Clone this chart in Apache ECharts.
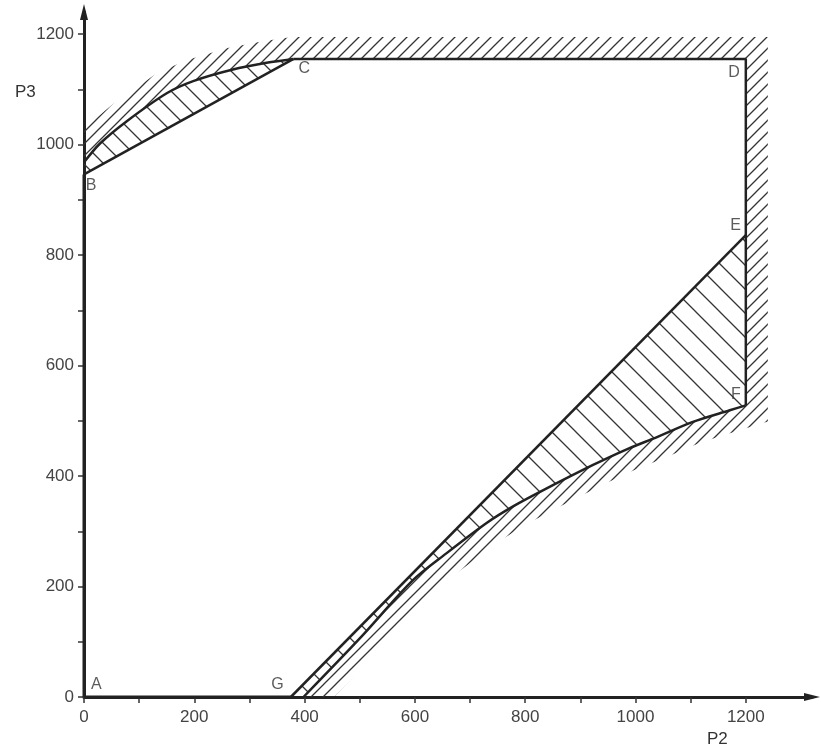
<!DOCTYPE html>
<html>
<head>
<meta charset="utf-8">
<title>P2 / P3</title>
<script src="https://cdn.jsdelivr.net/npm/echarts@6/dist/echarts.min.js"></script>
<style>
  html, body { margin: 0; padding: 0; background: #fff; }
  #chart { width: 821px; height: 750px; }
</style>
</head>
<body>
<div id="chart"></div>
<script>
// 轴刻度
var xTicks = [0, 100, 200, 300, 400, 500, 600, 700, 800, 900, 1000, 1100, 1200]
var xLabels = [0, 200, 400, 600, 800, 1000, 1200]
var yTicks = [0, 100, 200, 300, 400, 500, 600, 700, 800, 900, 1000, 1100, 1200]
var yLabels = [0, 200, 400, 600, 800, 1000, 1200]

// 角点 A..G
var pointNames = ['A', 'B', 'C', 'D', 'E', 'F', 'G']
var pointValues = [[0, 0], [0, 946], [380, 1155], [1200, 1155], [1200, 836], [1200, 528], [375, 0]]

// 上方弯边 (从 y 轴到 C)
var upperCurve = [[0, 968], [29, 1002], [77, 1042], [150, 1093], [198, 1115], [270, 1136], [331, 1148], [380, 1155]]
// 下方弯边 (从 x 轴到 F)
var lowerCurve = [[398, 0], [500, 106], [596, 211], [657, 260], [730, 315], [778, 345], [832, 374],
  [923, 420], [981, 447], [1040, 471], [1104, 498], [1171, 519], [1200, 528]]

var A = pointValues[0], B = pointValues[1], C = pointValues[2], D = pointValues[3]
var E = pointValues[4], F = pointValues[5], G = pointValues[6]

// 斜线填充
function hatch(size, dir, width, color) {
  var c = document.createElement('canvas')
  c.width = size
  c.height = size
  var ctx = c.getContext('2d')
  ctx.strokeStyle = color
  ctx.lineWidth = width
  ctx.beginPath()
  if (dir === '/') {
    ctx.moveTo(0, size); ctx.lineTo(size, 0)
    ctx.moveTo(-2, 2); ctx.lineTo(2, -2)
    ctx.moveTo(size - 2, size + 2); ctx.lineTo(size + 2, size - 2)
  } else {
    ctx.moveTo(0, 0); ctx.lineTo(size, size)
    ctx.moveTo(-2, size - 2); ctx.lineTo(2, size + 2)
    ctx.moveTo(size - 2, -2); ctx.lineTo(size + 2, 2)
  }
  ctx.stroke()
  return { image: c, repeat: 'repeat' }
}

var outerHatch = hatch(12, '/', 1.3, '#333')
var upperHatch = hatch(20, '\\', 1.3, '#333')
var lowerHatch = hatch(24, '\\', 1.3, '#333')

// 外侧带: 沿边界向外偏移
function bandPoints(pts, w) {
  var n = pts.length
  var norms = []
  for (var i = 0; i < n - 1; i++) {
    var dx = pts[i + 1][0] - pts[i][0]
    var dy = pts[i + 1][1] - pts[i][1]
    var l = Math.sqrt(dx * dx + dy * dy) || 1
    norms.push([dy / l, -dx / l])
  }
  var out = []
  for (var j = 0; j < n; j++) {
    var n1 = norms[Math.max(0, j - 1)]
    var n2 = norms[Math.min(norms.length - 1, j)]
    var ax = n1[0] + n2[0], ay = n1[1] + n2[1]
    var al = Math.sqrt(ax * ax + ay * ay) || 1
    ax /= al; ay /= al
    var k = w / (ax * n1[0] + ay * n1[1])
    out.push([pts[j][0] + ax * k, pts[j][1] + ay * k])
  }
  return pts.concat(out.reverse())
}

var outerPath = upperCurve.concat([D, E]).concat(lowerCurve.slice().reverse())
var upperLens = upperCurve.concat([B])
var lowerLens = [G, E, F].concat(lowerCurve.slice().reverse().slice(1))

function polySeries(name, pts, fill, band) {
  return {
    name: name,
    type: 'custom',
    clip: true,
    z: 1,
    silent: true,
    data: [0],
    renderItem: function(params, api) {
      var px = pts.map(function(p) { return api.coord(p) })
      if (band) px = bandPoints(px, band)
      return {
        type: 'polygon',
        shape: { points: px },
        style: { fill: fill, stroke: null }
      }
    }
  }
}

function lineSeries(name, data, width, smooth) {
  return {
    name: name,
    type: 'line',
    data: data,
    smooth: smooth || false,
    showSymbol: false,
    silent: true,
    z: 3,
    lineStyle: { color: '#222', width: width }
  }
}

var labelPos = {
  A: { position: 'right', offset: [2, -12] },
  B: { position: 'bottom', offset: [7, -2] },
  C: { position: 'right', offset: [0, 10] },
  D: { position: 'left', offset: [-1, 14] },
  E: { position: 'left', offset: [0, -10] },
  F: { position: 'left', offset: [0, -11] },
  G: { position: 'left', offset: [-2, -12] }
}

var pointData = pointNames.map(function(n, i) {
  return { name: n, value: pointValues[i], label: labelPos[n] }
})

var myChart = echarts.init(document.getElementById('chart'))
var axisFont = { color: '#444', fontSize: 17, fontFamily: 'Liberation Sans' }
function plain(v) { return String(v) }
var option = {
  backgroundColor: '#fff',
  animation: false,
  grid: { left: 84, right: 9, top: 12, bottom: 53 },
  xAxis: {
    type: 'value',
    min: 0,
    max: 1320,
    interval: 100,
    splitLine: { show: false },
    axisLine: {
      onZero: false,
      symbol: ['none', 'triangle'],
      symbolSize: [8, 16],
      lineStyle: { color: '#222', width: 3 }
    },
    axisTick: { customValues: xTicks, length: 6, lineStyle: { color: '#333', width: 1.5 } },
    axisLabel: Object.assign({ customValues: xLabels, margin: 12, formatter: plain }, axisFont)
  },
  yAxis: {
    type: 'value',
    min: 0,
    max: 1240,
    interval: 100,
    splitLine: { show: false },
    axisLine: {
      onZero: false,
      symbol: ['none', 'triangle'],
      symbolSize: [8, 16],
      lineStyle: { color: '#222', width: 3 }
    },
    axisTick: { customValues: yTicks, length: 6, lineStyle: { color: '#333', width: 1.5 } },
    axisLabel: Object.assign({ customValues: yLabels, margin: 10, formatter: plain }, axisFont)
  },
  graphic: [
    { type: 'text', left: 15, top: 84, style: { text: 'P3', fill: '#333', font: '17px Liberation Sans' } },
    { type: 'text', left: 707, top: 731, style: { text: 'P2', fill: '#333', font: '17px Liberation Sans' } }
  ],
  series: [
    polySeries('outer', outerPath, outerHatch, 22),
    polySeries('upperLens', upperLens, upperHatch),
    polySeries('lowerLens', lowerLens, lowerHatch),
    lineSeries('AB', [A, B], 3),
    lineSeries('BC', [B, C], 2.5),
    lineSeries('upperCurve', upperCurve, 2.5, 0.3),
    lineSeries('CDEF', [C, D, E, F], 2.5),
    lineSeries('GE', [G, E], 2.5),
    lineSeries('lowerCurve', lowerCurve, 2.5, 0.3),
    lineSeries('AG', [A, G], 3),
    {
      name: 'points',
      type: 'scatter',
      symbolSize: 0,
      silent: true,
      z: 5,
      data: pointData,
      label: {
        show: true,
        formatter: '{b}',
        color: '#333',
        fontSize: 16,
        fontFamily: 'Liberation Sans'
      }
    }
  ]
}
myChart.setOption(option)
</script>
</body>
</html>
